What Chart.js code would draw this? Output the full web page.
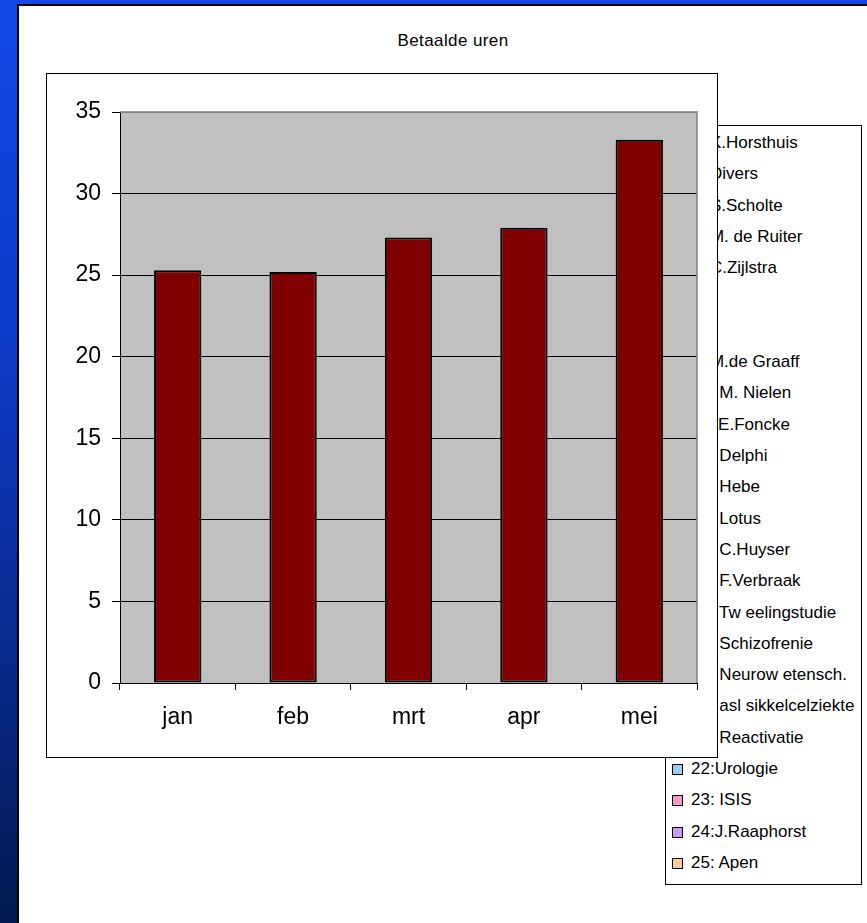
<!DOCTYPE html>
<html>
<head>
<meta charset="utf-8">
<script src="https://cdn.jsdelivr.net/npm/chart.js@4.4.1/dist/chart.umd.min.js"></script>
<style>
  html, body {
    margin: 0;
    padding: 0;
    width: 867px;
    height: 923px;
    overflow: hidden;
    font-family: "Liberation Sans", Arial, sans-serif;
  }
  body {
    position: relative;
    background: linear-gradient(180deg, #1148e6 0%, #0d3ccc 35%, #0a2c98 65%, #001a50 100%);
  }
  .panel {
    position: absolute;
    left: 17px;
    top: 4px;
    right: 0;
    bottom: 0;
    background: #fff;
    border-left: 2px solid #000;
    border-top: 2px solid #000;
  }
  .title {
    position: absolute;
    left: 0;
    width: 906px;
    top: 31px;
    text-align: center;
    font-size: 17px;
    letter-spacing: 0.4px;
    color: #000;
  }
  .legend {
    position: absolute;
    left: 665px;
    top: 125px;
    width: 197px;
    height: 760px;
    box-sizing: border-box;
    border: 1px solid #000;
    background: #fff;
    z-index: 1;
  }
  .legend .row {
    position: absolute;
    left: 6px;
    height: 20px;
    line-height: 20px;
    font-size: 17px;
    white-space: nowrap;
    color: #000;
  }
  .legend .mark {
    display: inline-block;
    width: 9px;
    height: 9px;
    border: 1px solid #000;
    vertical-align: -1px;
    margin-right: 8px;
  }
  .chart-box {
    position: absolute;
    left: 46px;
    top: 73px;
    width: 672px;
    height: 685px;
    box-sizing: border-box;
    border: 1px solid #000;
    background: #fff;
    z-index: 2;
  }
  .chart-box canvas {
    display: block;
  }
</style>
</head>
<body>
<div class="panel"></div>
<div class="title">Betaalde uren</div>
<div class="legend" id="legend"></div>
<div class="chart-box"><canvas id="chart" width="670" height="683"></canvas></div>

<script>
// data
const months = ["jan", "feb", "mrt", "apr", "mei"];
const hours = [25.3, 25.2, 27.3, 27.9, 33.3];
const yMin = 0;
const yMax = 35;
const yStep = 5;

const legendNames = [
  "2: K.Horsthuis", "3: Divers", "4: S.Scholte", "5: M. de Ruiter", "6: C.Zijlstra",
  "7:", "8:", "9: M.de Graaff", "10: M. Nielen", "11: E.Foncke", "12: Delphi",
  "13: Hebe", "14: Lotus", "15: C.Huyser", "16: F.Verbraak", "17: Tw eelingstudie",
  "18: Schizofrenie", "19: Neurow etensch.", "20: asl sikkelcelziekte", "21: Reactivatie",
  "22:Urologie", "23: ISIS", "24:J.Raaphorst", "25: Apen"
];
const legendColors = [
  "#9999FF", "#993366", "#FFFFCC", "#CCFFFF", "#660066", "#FF8080", "#0066CC",
  "#CCCCFF", "#000080", "#FF00FF", "#FFFF00", "#00FFFF", "#800080", "#800000",
  "#008080", "#0000FF", "#00CCFF", "#CCFFFF", "#CCFFCC", "#FFFF99", "#99CCFF",
  "#FF99CC", "#CC99FF", "#FFCC99"
];

// legend (sits behind the chart box, like in the original)
const legend = document.getElementById("legend");
legendNames.forEach((name, i) => {
  const row = document.createElement("div");
  row.className = "row";
  row.style.top = (7 + i * 31.3) + "px";
  const mark = document.createElement("span");
  mark.className = "mark";
  mark.style.background = legendColors[i];
  row.appendChild(mark);
  row.appendChild(document.createTextNode(name));
  legend.appendChild(row);
});

// gray plot area with gray top/right edge
const plotArea = {
  id: "plotArea",
  beforeDraw(chart) {
    const { ctx, chartArea: a } = chart;
    ctx.save();
    ctx.fillStyle = "#c0c0c0";
    ctx.fillRect(a.left, a.top, a.right - a.left, a.bottom - a.top);
    ctx.restore();
  },
  beforeDatasetsDraw(chart) {
    const { ctx, chartArea: a } = chart;
    ctx.save();
    ctx.strokeStyle = "#808080";
    ctx.lineWidth = 1.5;
    ctx.beginPath();
    ctx.moveTo(a.left, a.top);
    ctx.lineTo(a.right, a.top);
    ctx.lineTo(a.right, a.bottom);
    ctx.stroke();
    ctx.restore();
  }
};

const axisFont = { family: "'Liberation Sans', Arial, sans-serif", size: 23 };

new Chart(document.getElementById("chart"), {
  type: "bar",
  data: {
    labels: months,
    datasets: [
      {
        label: "Betaalde uren",
        data: hours,
        backgroundColor: "#800000",
        borderColor: "#000000",
        borderWidth: 2,
        borderSkipped: false,
        categoryPercentage: 1,
        barPercentage: 0.41
      }
    ]
  },
  options: {
    responsive: false,
    animation: false,
    layout: { padding: { top: 38, right: 20, left: 0, bottom: 0 } },
    plugins: {
      legend: { display: false },
      title: { display: false },
      tooltip: { enabled: false }
    },
    scales: {
      x: {
        grid: {
          drawOnChartArea: false,
          drawTicks: true,
          tickLength: 7,
          tickColor: "#000",
          offset: true
        },
        border: { color: "#000", width: 1 },
        ticks: { color: "#000", font: axisFont, padding: 14 },
        afterFit(scale) { scale.height = 74; }
      },
      y: {
        min: yMin,
        max: yMax,
        grid: {
          color: (c) => (c.tick && c.tick.value === yMax ? "#808080" : "#000"),
          tickColor: "#000",
          tickLength: 8,
          lineWidth: 1
        },
        border: { color: "#000", width: 1 },
        ticks: { stepSize: yStep, color: "#000", font: axisFont, padding: 11 },
        afterFit(scale) { scale.width = 73; }
      }
    }
  },
  plugins: [plotArea]
});
</script>
</body>
</html>
